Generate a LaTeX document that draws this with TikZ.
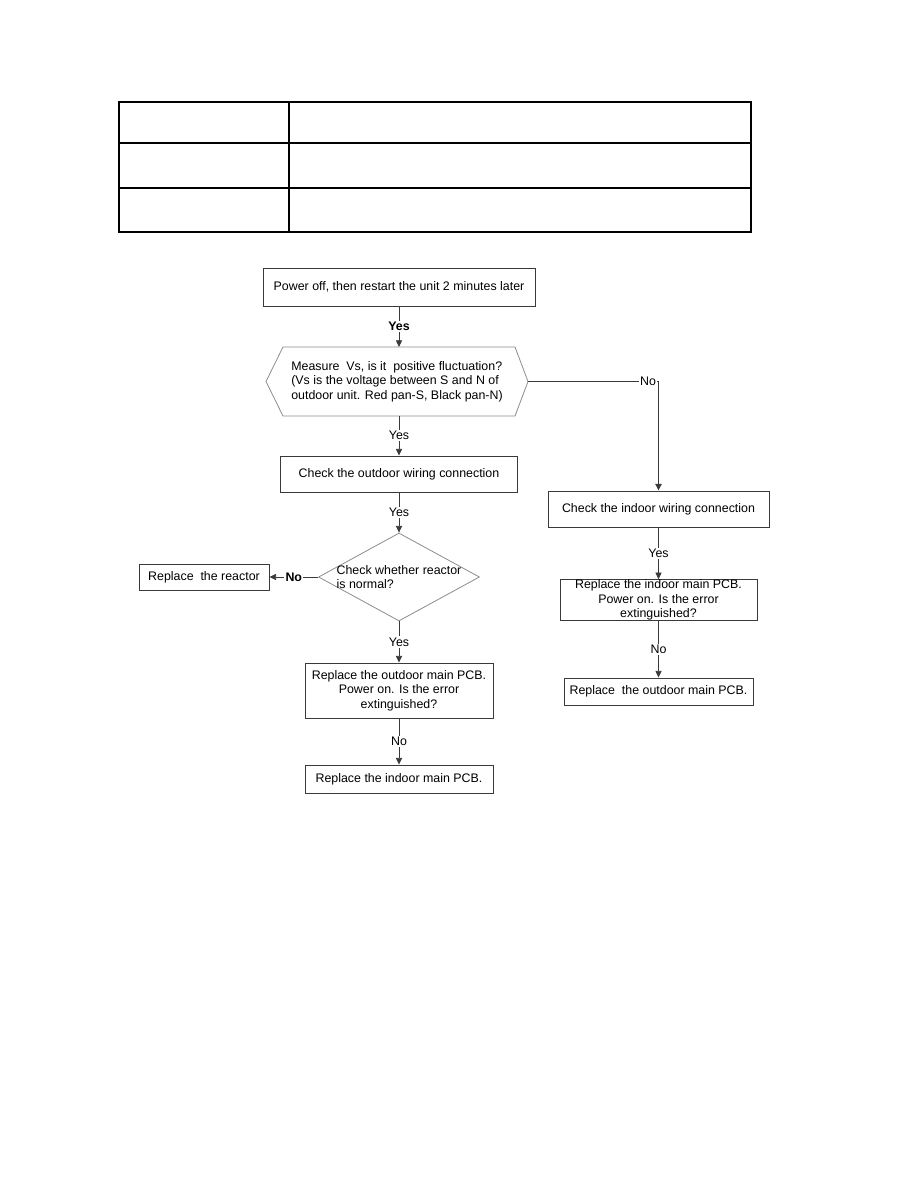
\documentclass[tikz,border=0pt]{standalone}
\usepackage{fontspec}
\setmainfont{Liberation Sans}
\usetikzlibrary{positioning,arrows.meta,shapes.geometric}
\definecolor{fline}{HTML}{3A3A3A}
\definecolor{fgray}{HTML}{8C8C8C}
\newcommand{\pu}{0.75pt}
\newcommand{\ffont}{\fontsize{9.3}{10.9}\selectfont}

\begin{document}
\begin{tikzpicture}[x=0.75pt, y=-0.75pt,
  every node/.style={font=\ffont, inner sep=0pt},
  box/.style={draw=fline, line width=0.7pt, align=center},
  flow/.style={draw=fline, line width=0.6pt, -{Triangle[length=5pt,width=4.6pt]}},
  lbl/.style={fill=white, inner sep=1pt},
  blbl/.style={lbl, font=\ffont\bfseries}]
 \useasboundingbox (0,0) rectangle (918,1188);
 % empty table on top
 \draw[line width=0.9pt] (119,102) rectangle (751,232);
 \draw[line width=0.9pt] (289,102) -- (289,232);
 \foreach \r in {143,188} \draw[line width=0.9pt] (119,\r) -- (751,\r);
 % left branch
 \node[box, minimum width=272*\pu, minimum height=38*\pu] (start) at (399,287) {Power off, then restart the unit 2 minutes later};
 \node[minimum width=232*\pu, minimum height=69*\pu, align=left] (meas) at (397,381.5) {Measure\ \ Vs, is it\ \ positive fluctuation?\\(Vs is the voltage between S and N of\\outdoor unit. Red pan-S, Black pan-N)};
 \coordinate (mleft) at (266,381.5);
 \coordinate (mright) at (528,381.5);
 \draw[fgray, line width=0.6pt] (283,347) -- (515,347) -- (mright) -- (515,416) -- (283,416) -- (mleft) -- cycle;
 \node[box, minimum width=237*\pu, minimum height=36*\pu] (outw) at (399,474) {Check the outdoor wiring connection};
 \node[diamond, draw=fgray, line width=0.6pt, minimum width=161*\pu, minimum height=88*\pu] (chk) at (399,577) {};
 \node[align=left] (chktxt) at (chk.center) {Check whether reactor\\is normal?};
 \node[box, minimum width=130*\pu, minimum height=26*\pu] (reac) at (204,577) {Replace\ \ the reactor};
 \node[box, minimum width=188*\pu, minimum height=55*\pu] (opcb) at (399,690.5) {Replace the outdoor main PCB.\\Power on. Is the error\\extinguished?};
 \node[box, minimum width=188*\pu, minimum height=28*\pu] (ipcb) at (399,779) {Replace the indoor main PCB.};
 % right branch
 \node[box, minimum width=221*\pu, minimum height=36*\pu] (inw) at (658.5,509) {Check the indoor wiring connection};
 \node[box, minimum width=197*\pu, minimum height=40*\pu] (ipcbr) at (658.5,600) {Replace the indoor main PCB.\\Power on. Is the error\\extinguished?};
 \node[box, minimum width=189*\pu, minimum height=27*\pu] (opcbr) at (658.5,691.5) {Replace\ \ the outdoor main PCB.};
 \coordinate (ncorner) at (inw.north |- mright);
 % connectors
 \draw[flow] (start) -- node[blbl] {Yes} (399,347);
 \draw[flow] (399,416) -- node[lbl] {Yes} (outw.north);
 \draw[flow] (outw) -- node[lbl] {Yes} (chk.north);
 \draw[flow] (chk.west) -- node[blbl] {No} (reac.east);
 \draw[flow] (chk.south) -- node[lbl] {Yes} (opcb.north);
 \draw[flow] (opcb) -- node[lbl] {No} (ipcb);
 \draw[fline, line width=0.6pt] (mright) -- (ncorner);
 \draw[flow, line width=1.4pt] (ncorner) -- (inw.north);
 \node[lbl, anchor=east] (nolbl) at ([xshift=-1*\pu]ncorner) {No};
 \draw[flow] (inw) -- node[lbl] {Yes} (ipcbr);
 \draw[flow] (ipcbr) -- node[lbl] {No} (opcbr);
\end{tikzpicture}
\end{document}
